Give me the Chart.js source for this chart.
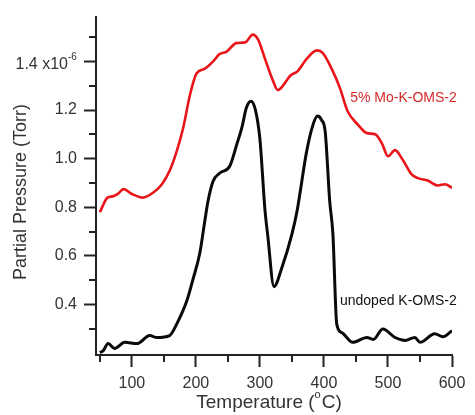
<!DOCTYPE html>
<html>
<head>
<meta charset="utf-8">
<script src="https://cdn.jsdelivr.net/npm/chart.js@4.4.1/dist/chart.umd.min.js"></script>
<style>
  html, body { margin: 0; padding: 0; background: #fff; }
  #wrap { width: 475px; height: 415px; }
</style>
</head>
<body>
<div id="wrap"><canvas id="myChart" width="475" height="415"></canvas></div>
<script>
// temperature (°C) and partial pressure (x10^-6 Torr)
var redTemp = [50, 62, 70, 78, 87, 100, 117, 133, 147, 159, 170, 180, 191, 201, 214, 227, 237, 248, 263, 277, 289, 297, 308, 319, 328, 336, 347, 359, 373, 389, 398, 412, 425, 437, 453, 467, 480, 491, 500, 511, 522, 537, 547, 562, 578, 589, 600];
var redPressure = [0.78, 0.84, 0.845, 0.855, 0.875, 0.855, 0.84, 0.86, 0.895, 0.95, 1.03, 1.125, 1.265, 1.35, 1.37, 1.40, 1.43, 1.44, 1.475, 1.478, 1.51, 1.49, 1.41, 1.33, 1.282, 1.30, 1.34, 1.36, 1.41, 1.445, 1.435, 1.37, 1.29, 1.195, 1.14, 1.105, 1.10, 1.06, 1.01, 1.035, 1.0, 0.935, 0.92, 0.91, 0.89, 0.895, 0.88];

var blackTemp = [50, 55, 63, 73, 89, 108, 128, 139, 159, 170, 186, 195, 206, 214, 219, 227, 237, 253, 264, 272, 279, 286, 293, 300, 308, 312, 322, 334, 350, 358, 373, 383, 390, 396, 402, 409, 414, 420, 428, 445, 467, 477, 492, 511, 527, 542, 550, 573, 586, 600];
var blackPressure = [0.203, 0.21, 0.24, 0.22, 0.245, 0.24, 0.273, 0.265, 0.273, 0.32, 0.417, 0.5, 0.61, 0.745, 0.826, 0.908, 0.94, 0.97, 1.06, 1.13, 1.21, 1.236, 1.2, 1.08, 0.785, 0.69, 0.474, 0.55, 0.69, 0.785, 1.03, 1.14, 1.175, 1.16, 1.11, 0.826, 0.69, 0.32, 0.285, 0.245, 0.265, 0.257, 0.30, 0.265, 0.253, 0.265, 0.245, 0.28, 0.268, 0.293];

var seriesNames = ["5% Mo-K-OMS-2", "undoped K-OMS-2"];
// where each series name sits, in data units [temp, pressure]
var nameSpots = [[441, 1.248], [425, 0.416]];

var yLabelTicks = [0.4, 0.6, 0.8, 1.0, 1.2, 1.4];
var xLabelTicks = [100, 200, 300, 400, 500, 600];

var font = "'Liberation Sans', Arial, sans-serif";
var textColor = "#333";

function toPoints(xs, ys) {
    return xs.map(function (x, i) { return { x: x, y: ys[i] }; });
}

function isYMajor(v) {
    var k = Math.round(v * 10);
    return k % 2 === 0 && k >= 4;
}

var labelsPlugin = {
    id: "labels",
    afterDraw: function (chart) {
        var ctx = chart.ctx;
        var xs = chart.scales.x, ys = chart.scales.y;
        ctx.save();

        // minor ticks
        ctx.strokeStyle = "#222";
        ctx.lineWidth = 2;
        ctx.beginPath();
        xs.ticks.forEach(function (t) {
            if (t.value % 100 !== 0) {
                var px = Math.round(xs.getPixelForValue(t.value));
                ctx.moveTo(px, xs.top);
                ctx.lineTo(px, xs.top + 7);
            }
        });
        ys.ticks.forEach(function (t) {
            var k = Math.round(t.value * 10);
            if (k % 2 === 1) {
                var py = Math.round(ys.getPixelForValue(t.value));
                ctx.moveTo(ys.right, py);
                ctx.lineTo(ys.right - 7, py);
            }
        });
        ctx.stroke();

        ctx.fillStyle = textColor;

        // 1.4 x10^-6 label
        var y14 = ys.getPixelForValue(1.4);
        ctx.font = "16px " + font;
        ctx.textAlign = "right";
        ctx.textBaseline = "alphabetic";
        ctx.fillText("1.4 x10", 68, y14 + 8);
        ctx.font = "10px " + font;
        ctx.textAlign = "left";
        ctx.fillText("-6", 68, y14 - 1);

        // y title
        ctx.save();
        ctx.translate(21, 192);
        ctx.rotate(-Math.PI / 2);
        ctx.font = "18px " + font;
        ctx.textAlign = "center";
        ctx.textBaseline = "middle";
        ctx.fillText("Partial Pressure (Torr)", 0, 0);
        ctx.restore();

        // x title with superscript o
        var a = "Temperature (", b = "C)";
        ctx.font = "19px " + font;
        var wa = ctx.measureText(a).width, wb = ctx.measureText(b).width;
        ctx.font = "11px " + font;
        var wo = ctx.measureText("o").width;
        var total = wa + wo + wb + 1;
        var x0 = 269 - total / 2, base = 408;
        ctx.textAlign = "left";
        ctx.font = "19px " + font;
        ctx.fillText(a, x0, base);
        ctx.font = "11px " + font;
        ctx.fillText("o", x0 + wa, base - 10);
        ctx.font = "19px " + font;
        ctx.fillText(b, x0 + wa + wo + 1, base);

        // series names
        ctx.font = "14px " + font;
        ctx.textBaseline = "middle";
        ctx.fillStyle = "#d42a2a";
        ctx.fillText(seriesNames[0], xs.getPixelForValue(nameSpots[0][0]), ys.getPixelForValue(nameSpots[0][1]));
        ctx.fillStyle = "#111";
        ctx.fillText(seriesNames[1], xs.getPixelForValue(nameSpots[1][0]), ys.getPixelForValue(nameSpots[1][1]));

        ctx.restore();
    }
};

var ctx = document.getElementById("myChart").getContext("2d");
var chart = new Chart(ctx, {
    type: "line",
    data: {
        datasets: [
            {
                label: seriesNames[0],
                data: toPoints(redTemp, redPressure),
                borderColor: "#e8161b",
                borderWidth: 2.6,
                pointRadius: 0,
                cubicInterpolationMode: "monotone",
                fill: false
            },
            {
                label: seriesNames[1],
                data: toPoints(blackTemp, blackPressure),
                borderColor: "#0a0a0a",
                borderWidth: 3,
                pointRadius: 0,
                cubicInterpolationMode: "monotone",
                fill: false
            }
        ]
    },
    options: {
        responsive: false,
        animation: false,
        layout: { padding: { left: 0, right: 23, top: 15, bottom: 0 } },
        plugins: {
            legend: { display: false },
            tooltip: { enabled: false }
        },
        scales: {
            x: {
                type: "linear",
                min: 44,
                max: 600,
                afterFit: function (s) { s.height = 60; },
                border: { display: true, color: "#222", width: 2 },
                grid: {
                    drawOnChartArea: false,
                    drawTicks: true,
                    tickLength: 12,
                    tickWidth: 2,
                    tickColor: function (c) {
                        return c.tick && xLabelTicks.indexOf(c.tick.value) >= 0 ? "#222" : "rgba(0,0,0,0)";
                    }
                },
                ticks: {
                    stepSize: 50,
                    includeBounds: false,
                    maxRotation: 0,
                    autoSkip: false,
                    padding: 7,
                    color: textColor,
                    font: { family: font, size: 16 },
                    callback: function (v) {
                        return xLabelTicks.indexOf(v) >= 0 ? String(v) : "";
                    }
                }
            },
            y: {
                type: "linear",
                min: 0.193,
                max: 1.584,
                afterFit: function (s) { s.width = 96; },
                border: { display: true, color: "#222", width: 2 },
                grid: {
                    drawOnChartArea: false,
                    drawTicks: true,
                    tickLength: 12,
                    tickWidth: 2,
                    tickColor: function (c) {
                        return c.tick && isYMajor(c.tick.value) ? "#222" : "rgba(0,0,0,0)";
                    }
                },
                ticks: {
                    stepSize: 0.1,
                    includeBounds: false,
                    autoSkip: false,
                    padding: 7,
                    color: textColor,
                    font: { family: font, size: 16 },
                    callback: function (v) {
                        if (!isYMajor(v)) return "";
                        var k = Math.round(v * 10);
                        if (k === 14) return "";
                        return (k / 10).toFixed(1);
                    }
                }
            }
        }
    },
    plugins: [labelsPlugin]
});
</script>
</body>
</html>
